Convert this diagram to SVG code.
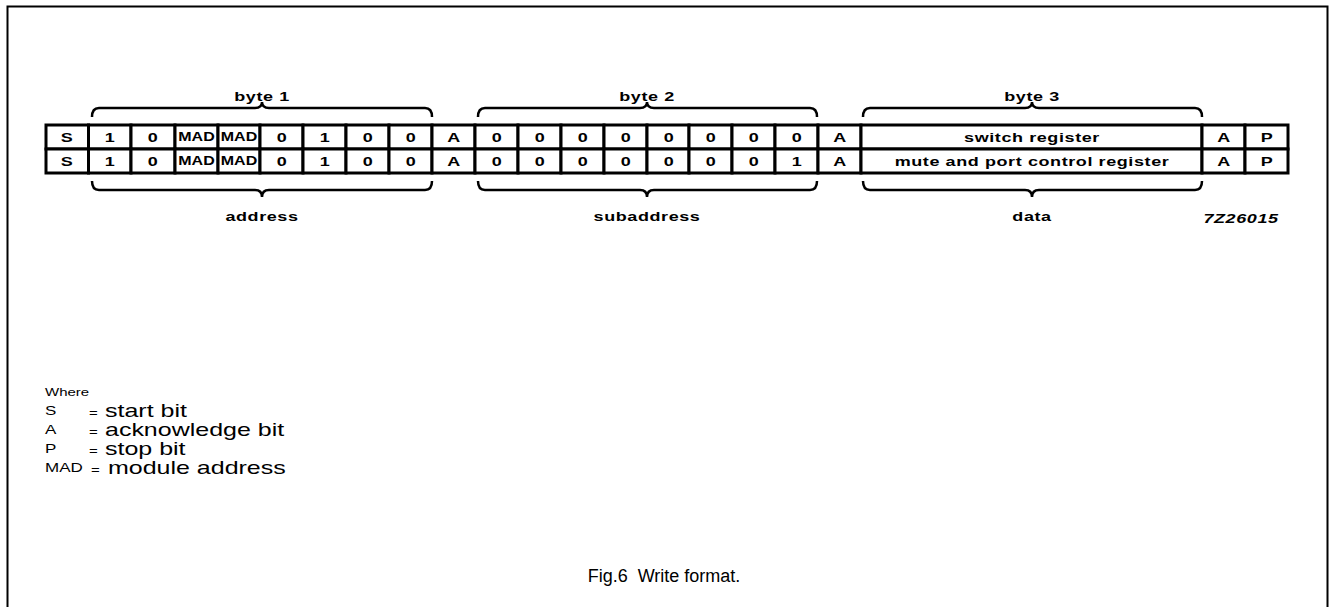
<svg xmlns="http://www.w3.org/2000/svg" width="1329" height="607" viewBox="0 0 1329 607">
<style>
.cell{fill:#fff;stroke:#000;stroke-width:3}
.t{font-family:"Liberation Sans",Arial,sans-serif;font-weight:bold;font-size:18px;fill:#000;text-anchor:middle;dominant-baseline:central;letter-spacing:0.6px}
.mad{font-family:"Liberation Sans",Arial,sans-serif;font-weight:bold;font-size:16px;fill:#000;text-anchor:middle;dominant-baseline:central}
.brace{fill:none;stroke:#000;stroke-width:2.5}
.lg{font-family:"Liberation Sans",Arial,sans-serif;fill:#000;dominant-baseline:central}
</style>
<rect x="0" y="0" width="1329" height="607" fill="#fff"/>
<path d="M7.5 612 V6.5 H1327.5 V612" fill="none" stroke="#000" stroke-width="2"/>

<g id="row1">
<rect class="cell" x="46" y="125" width="42.5" height="24"/>
<rect class="cell" x="88.5" y="125" width="42.5" height="24"/>
<rect class="cell" x="131" y="125" width="44" height="24"/>
<rect class="cell" x="175" y="125" width="43" height="24"/>
<rect class="cell" x="218" y="125" width="42" height="24"/>
<rect class="cell" x="260" y="125" width="43" height="24"/>
<rect class="cell" x="303" y="125" width="43" height="24"/>
<rect class="cell" x="346" y="125" width="43" height="24"/>
<rect class="cell" x="389" y="125" width="43" height="24"/>
<rect class="cell" x="432" y="125" width="43" height="24"/>
<rect class="cell" x="475" y="125" width="43" height="24"/>
<rect class="cell" x="518" y="125" width="43" height="24"/>
<rect class="cell" x="561" y="125" width="43" height="24"/>
<rect class="cell" x="604" y="125" width="43" height="24"/>
<rect class="cell" x="647" y="125" width="42" height="24"/>
<rect class="cell" x="689" y="125" width="43" height="24"/>
<rect class="cell" x="732" y="125" width="43" height="24"/>
<rect class="cell" x="775" y="125" width="43" height="24"/>
<rect class="cell" x="818" y="125" width="43" height="24"/>
<rect class="cell" x="861" y="125" width="341" height="24"/>
<rect class="cell" x="1202" y="125" width="43" height="24"/>
<rect class="cell" x="1245" y="125" width="43" height="24"/>
<g transform="scale(1,0.75)">
<text class="t" x="67" y="182.7">S</text>
<text class="t" x="110" y="182.7">1</text>
<text class="t" x="153" y="182.7">0</text>
<text class="mad" x="196.5" y="182.7">MAD</text>
<text class="mad" x="239" y="182.7">MAD</text>
<text class="t" x="282" y="182.7">0</text>
<text class="t" x="325" y="182.7">1</text>
<text class="t" x="368" y="182.7">0</text>
<text class="t" x="411" y="182.7">0</text>
<text class="t" x="454" y="182.7">A</text>
<text class="t" x="497" y="182.7">0</text>
<text class="t" x="540" y="182.7">0</text>
<text class="t" x="583" y="182.7">0</text>
<text class="t" x="626" y="182.7">0</text>
<text class="t" x="669" y="182.7">0</text>
<text class="t" x="711" y="182.7">0</text>
<text class="t" x="754" y="182.7">0</text>
<text class="t" x="797" y="182.7">0</text>
<text class="t" x="840" y="182.7">A</text>
<text class="t" x="1032" y="182.7">switch register</text>
<text class="t" x="1224" y="182.7">A</text>
<text class="t" x="1267" y="182.7">P</text>
</g>
</g>

<g id="row2">
<rect class="cell" x="46" y="149" width="42.5" height="24"/>
<rect class="cell" x="88.5" y="149" width="42.5" height="24"/>
<rect class="cell" x="131" y="149" width="44" height="24"/>
<rect class="cell" x="175" y="149" width="43" height="24"/>
<rect class="cell" x="218" y="149" width="42" height="24"/>
<rect class="cell" x="260" y="149" width="43" height="24"/>
<rect class="cell" x="303" y="149" width="43" height="24"/>
<rect class="cell" x="346" y="149" width="43" height="24"/>
<rect class="cell" x="389" y="149" width="43" height="24"/>
<rect class="cell" x="432" y="149" width="43" height="24"/>
<rect class="cell" x="475" y="149" width="43" height="24"/>
<rect class="cell" x="518" y="149" width="43" height="24"/>
<rect class="cell" x="561" y="149" width="43" height="24"/>
<rect class="cell" x="604" y="149" width="43" height="24"/>
<rect class="cell" x="647" y="149" width="42" height="24"/>
<rect class="cell" x="689" y="149" width="43" height="24"/>
<rect class="cell" x="732" y="149" width="43" height="24"/>
<rect class="cell" x="775" y="149" width="43" height="24"/>
<rect class="cell" x="818" y="149" width="43" height="24"/>
<rect class="cell" x="861" y="149" width="341" height="24"/>
<rect class="cell" x="1202" y="149" width="43" height="24"/>
<rect class="cell" x="1245" y="149" width="43" height="24"/>
<g transform="scale(1,0.75)">
<text class="t" x="67" y="214.7">S</text>
<text class="t" x="110" y="214.7">1</text>
<text class="t" x="153" y="214.7">0</text>
<text class="mad" x="196.5" y="214.7">MAD</text>
<text class="mad" x="239" y="214.7">MAD</text>
<text class="t" x="282" y="214.7">0</text>
<text class="t" x="325" y="214.7">1</text>
<text class="t" x="368" y="214.7">0</text>
<text class="t" x="411" y="214.7">0</text>
<text class="t" x="454" y="214.7">A</text>
<text class="t" x="497" y="214.7">0</text>
<text class="t" x="540" y="214.7">0</text>
<text class="t" x="583" y="214.7">0</text>
<text class="t" x="626" y="214.7">0</text>
<text class="t" x="669" y="214.7">0</text>
<text class="t" x="711" y="214.7">0</text>
<text class="t" x="754" y="214.7">0</text>
<text class="t" x="797" y="214.7">1</text>
<text class="t" x="840" y="214.7">A</text>
<text class="t" x="1032" y="214.7">mute and port control register</text>
<text class="t" x="1224" y="214.7">A</text>
<text class="t" x="1267" y="214.7">P</text>
</g>
</g>

<g id="connectors">
<path class="brace" d="M92 117 Q92 108 99 108 L255 108 Q262 108 262 102 Q262 108 269 108 L425 108 Q432 108 432 117"/>
<path class="brace" d="M478 117 Q478 108 485 108 L640 108 Q647 108 647 102 Q647 108 654 108 L810 108 Q817 108 817 117"/>
<path class="brace" d="M863 117 Q863 108 870 108 L1025 108 Q1032 108 1032 102 Q1032 108 1039 108 L1195 108 Q1202 108 1202 117"/>
<path class="brace" d="M92 181 Q92 190 99 190 L255 190 Q262 190 262 197 Q262 190 269 190 L425 190 Q432 190 432 181"/>
<path class="brace" d="M478 181 Q478 190 485 190 L640 190 Q647 190 647 197 Q647 190 654 190 L810 190 Q817 190 817 181"/>
<path class="brace" d="M863 181 Q863 190 870 190 L1025 190 Q1032 190 1032 197 Q1032 190 1039 190 L1195 190 Q1202 190 1202 181"/>
</g>

<g id="labels" transform="scale(1,0.75)">
<text class="t" x="262" y="128">byte 1</text>
<text class="t" x="647" y="128">byte 2</text>
<text class="t" x="1032" y="128">byte 3</text>
<text class="t" x="262" y="288">address</text>
<text class="t" x="647" y="288">subaddress</text>
<text class="t" x="1032" y="288">data</text>
<text class="t" x="1241" y="290.7" style="font-style:italic">7Z26015</text>
</g>

<g id="legend" transform="scale(1,0.72)">
<text class="lg" x="45" y="544.4" font-size="15">Where</text>
<text class="lg" x="45" y="570.8" font-size="17">S</text>
<text class="lg" x="89" y="573.6" font-size="15">=</text>
<text class="lg" x="105" y="570.8" font-size="25">start bit</text>
<text class="lg" x="45" y="597.2" font-size="17">A</text>
<text class="lg" x="89" y="600" font-size="15">=</text>
<text class="lg" x="105" y="597.2" font-size="25">acknowledge bit</text>
<text class="lg" x="45" y="623.6" font-size="17">P</text>
<text class="lg" x="89" y="626.4" font-size="15">=</text>
<text class="lg" x="105" y="623.6" font-size="25">stop bit</text>
<text class="lg" x="45" y="650" font-size="17">MAD</text>
<text class="lg" x="91" y="652.8" font-size="15">=</text>
<text class="lg" x="108" y="650" font-size="25">module address</text>
</g>

<text id="caption" class="lg" x="664" y="576" font-size="18" text-anchor="middle" xml:space="preserve">Fig.6  Write format.</text>
</svg>
